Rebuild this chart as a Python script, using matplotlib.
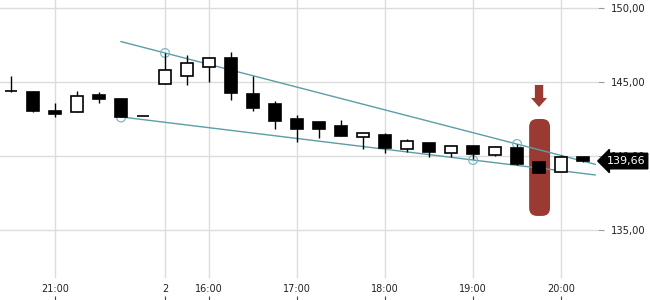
import numpy as np
import matplotlib.pyplot as plt
from matplotlib.patches import FancyBboxPatch, FancyArrow

# 15-minute candles, index based x axis (gap between sessions removed)
opens = [144.36, 144.30, 143.04, 142.95, 144.10, 143.85, 142.68, 144.84, 145.39, 146.00,
         146.60, 144.19, 143.51, 142.50, 142.28, 142.03, 141.26, 141.42, 140.45, 140.88,
         140.18, 140.68, 140.09, 140.54, 139.59, 138.90, 139.95]
closes = [144.36, 143.06, 142.86, 144.03, 143.87, 142.65, 142.68, 145.79, 146.26, 146.60,
          144.28, 143.26, 142.39, 141.85, 141.84, 141.37, 141.55, 140.56, 140.99, 140.25,
          140.68, 140.11, 140.59, 139.48, 138.87, 139.91, 139.66]
highs = [145.40, 144.39, 143.58, 144.39, 144.30, 143.92, 142.68, 146.94, 146.82, 146.67,
         147.00, 145.40, 143.72, 142.77, 142.30, 142.43, 141.55, 141.55, 141.15, 140.88,
         140.74, 140.68, 140.65, 140.81, 139.59, 140.09, 139.95]
lows = [144.30, 143.00, 142.65, 142.95, 143.56, 142.65, 142.68, 144.84, 144.82, 145.02,
        143.78, 143.06, 141.82, 140.95, 141.20, 141.37, 140.49, 140.18, 140.26, 139.95,
        139.95, 139.82, 139.97, 139.40, 138.87, 138.90, 139.57]

tick_idx = [2, 7, 9, 13, 17, 21, 25]
tick_labels = ['21:00', '2', '16:00', '17:00', '18:00', '19:00', '20:00']
price_ticks = [135, 140, 145, 150]

# trend lines and touch points
upper_x, upper_y = [5, 26.55], [147.73, 139.44]
lower_x, lower_y = [5, 26.55], [142.64, 138.72]
touch_x = [7, 5, 21, 23]
touch_y = [146.96, 142.60, 139.73, 140.81]

last_price = 139.66
signal_idx = 24

fig = plt.figure(figsize=(6.5, 3), dpi=100)
ax = fig.add_axes([0, 0, 598 / 650, 1])
ax.set_xlim(-0.5, 26.68)
ax.set_ylim(130.27, 150.54)

n = len(opens)
x = np.arange(n)
o = np.array(opens)
c = np.array(closes)

# grid
for t in tick_idx:
    ax.axvline(t, ymin=23 / 300, ymax=1, color='#dcdcdc', lw=1, zorder=0)
for p in price_ticks:
    ax.axhline(p, color='#dcdcdc', lw=1, zorder=0)

# highlight box + arrow
box = FancyBboxPatch((23.55 + 0.36, 135.95 + 0.54), 0.95 - 0.72, 6.55 - 1.08,
                     boxstyle='round,pad=0.36', mutation_aspect=1.5,
                     fc='#9b3a33', ec='none', zorder=1)
ax.add_patch(box)
ax.add_patch(FancyArrow(signal_idx, 144.8, 0, -1.49, width=0.38, head_width=0.73,
                        head_length=0.61, length_includes_head=True,
                        fc='#9b3a33', ec='none', zorder=1))

# trend lines
ax.plot(upper_x, upper_y, color='#5b9ea6', lw=1, zorder=2)
ax.plot(lower_x, lower_y, color='#5b9ea6', lw=1, zorder=2)
ax.scatter(touch_x, touch_y, s=40, facecolors='none', edgecolors='#7fb8be', lw=0.9, zorder=2)

# candles
ax.vlines(x, lows, highs, color='black', lw=1.0, zorder=3)
up = c >= o
ax.bar(x[up], (c - o)[up], bottom=o[up], width=0.58, color='white',
       edgecolor='black', lw=1.2, zorder=4)
ax.bar(x[~up], (o - c)[~up], bottom=c[~up], width=0.58, color='black',
       edgecolor='black', lw=1.2, zorder=4)

# axes styling
for s in ax.spines.values():
    s.set_visible(False)
ax.yaxis.tick_right()
ax.set_yticks(price_ticks)
ax.set_yticklabels([f'{p:.2f}'.replace('.', ',') for p in price_ticks])
ax.tick_params(axis='y', length=4, color='#999999', pad=5, labelsize=7.2, labelcolor='#222222')
ax.set_xticks(tick_idx)
ax.set_xticklabels(tick_labels)
ax.tick_params(axis='x', direction='in', length=3, color='#444444', pad=-11.5,
               labelsize=7, labelcolor='#222222')

# last price tag
ax.annotate(f'{last_price:.2f}'.replace('.', ','), xy=(1.0, last_price),
            xycoords=('axes fraction', 'data'), xytext=(6, 0), textcoords='offset points',
            ha='left', va='center', color='white', fontsize=8, annotation_clip=False,
            bbox=dict(boxstyle='larrow,pad=0.25', fc='black', ec='black'), zorder=10)

fig.savefig('out.png', dpi=100)
